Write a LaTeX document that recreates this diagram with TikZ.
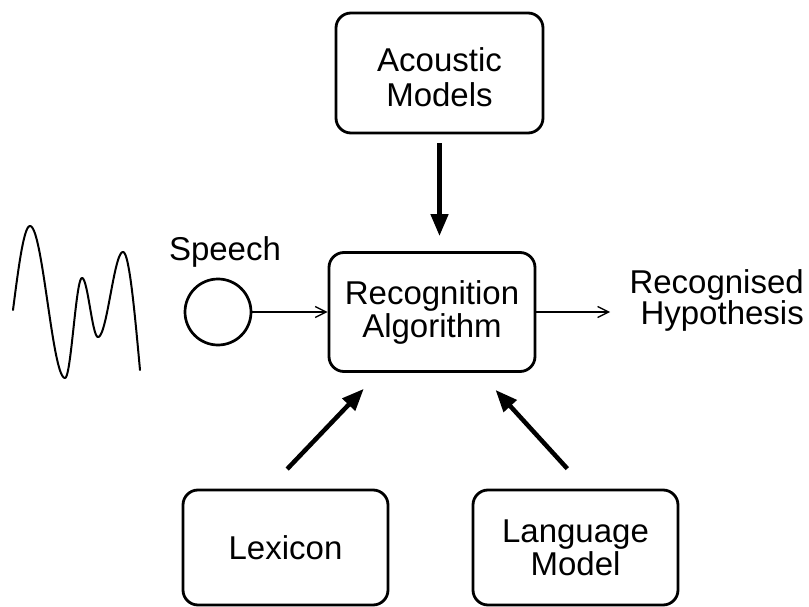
\documentclass[tikz,border=0pt]{standalone}
\usepackage{fontspec}
\setmainfont{Liberation Sans}
\usetikzlibrary{arrows.meta,calc}
\begin{document}
\begin{tikzpicture}[x=1pt,y=-1pt,
  box/.style={draw,line width=2.8pt,rounded corners=15pt,minimum width=207pt,minimum height=120pt,align=center,inner sep=0pt,font=\fontsize{33}{33}\selectfont},
  bigarrow/.style={line width=4.5pt,-{Triangle[length=22pt,width=17pt]}},
  thinarrow/.style={line width=1.3pt,-{Straight Barb[length=11pt,width=11pt]}},
  lbl/.style={inner sep=0pt,font=\fontsize{33}{33}\selectfont},
  wave/.style={line width=2pt,line join=round,line cap=round}]
\useasboundingbox (0,0) rectangle (809,607);

\node[box] (am) at (439.5,73) {\rule{0pt}{33pt}Acoustic\\[2pt]Models};
\node[box,minimum width=206pt,minimum height=119pt] (ra) at (432,312) {Recognition\\Algorithm};
\node[box,minimum width=205pt,minimum height=115pt] (lex) at (285.5,547.5) {Lexicon};
\node[box,minimum width=205pt,minimum height=115pt] (lm) at (575.5,547.5) {Language\\Model};
\node[draw,circle,line width=2.7pt,minimum size=66pt,inner sep=0pt] (sp) at (218,312) {};
\node[lbl,anchor=base] (splbl) at (225,260) {Speech};
\coordinate (out) at (610,312);
\node[lbl,anchor=base east,text width=180pt,align=right,font=\fontsize{33}{29}\selectfont] (hyp) at (804,293) {Recognised\\Hypothesis};

\draw[bigarrow,shorten <=9pt,shorten >=15pt] (am.south) -- (am.south |- ra.north);
\draw[thinarrow] (sp.east) -- (ra.west);
\draw[thinarrow] (ra.east) -- (out);
\draw[bigarrow,shorten <=27pt,shorten >=22pt] ($(lex.north)+(-17,0)$) -- ($(ra.south)+(-53,0)$);
\draw[bigarrow,shorten <=27pt,shorten >=23pt] ($(lm.north)+(10,0)$) -- ($(ra.south)+(48,0)$);

\draw[wave]
  plot[domain=0:90,samples=20] ({13+17*\x/90},{310-84*sin(\x)})
  -- plot[domain=0:180,samples=36] ({30+35*\x/180},{302-76*cos(\x)})
  -- plot[domain=0:180,samples=30] ({65+17*\x/180},{328+50*cos(\x)})
  -- plot[domain=0:180,samples=30] ({82+16*\x/180},{307.5-29.5*cos(\x)})
  -- plot[domain=0:180,samples=30] ({98+25*\x/180},{294.5+42.5*cos(\x)})
  -- plot[domain=0:90,samples=20] ({123+17*\x/90},{252+118*(1-cos(\x))});
\end{tikzpicture}
\end{document}
